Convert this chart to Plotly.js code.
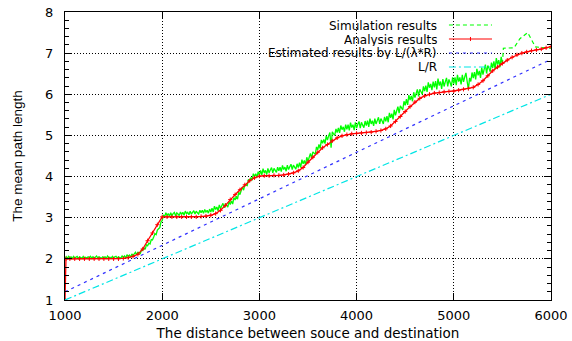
<!DOCTYPE html>
<html>
<head>
<meta charset="utf-8">
<script src="https://cdn.plot.ly/plotly-3.0.1.min.js"></script>
<style>html,body{margin:0;padding:0;background:#fff;}#chart{width:572px;height:341px;}</style>
</head>
<body>
<div id="chart"></div>
<script>
// ---- data ----
var xTickVals = [1000, 2000, 3000, 4000, 5000, 6000];
var yTickVals = [1, 2, 3, 4, 5, 6, 7, 8];

// Simulation results (dense, sampled every 12.5 from 1000 to 5500)
var simStart = 1000, simStep = 12.5;
var simDense = [
  // 1000 - 1600
  2.00, 2.05, 2.01, 2.06, 2.03, 2.05, 2.00, 2.06, 2.02, 2.04, 2.06, 2.01, 2.05, 2.03, 2.01, 2.06, 2.02,
  2.04, 2.02, 2.05, 2.03, 2.06, 2.01, 2.05, 2.02, 2.04, 2.07, 2.02, 2.05, 2.03, 2.01, 2.05, 2.03,
  2.05, 2.01, 2.07, 2.03, 2.04, 2.01, 2.06, 2.02, 2.05, 2.06, 2.02, 2.05, 2.03, 2.02, 2.07, 2.03,
  // 1612.5 - 2000
  2.07, 2.02, 2.10, 2.06, 2.09, 2.04, 2.12, 2.08, 2.12, 2.16, 2.10, 2.16, 2.15, 2.13, 2.22, 2.20,
  2.27, 2.23, 2.34, 2.32, 2.38, 2.36, 2.47, 2.46, 2.53, 2.61, 2.59, 2.70, 2.73, 2.76, 2.90, 2.93,
  // 2012.5 - 2500
  3.07, 3.02, 3.12, 3.06, 3.10, 3.03, 3.12, 3.05, 3.10, 3.13, 3.05, 3.12, 3.09, 3.05, 3.14, 3.08,
  3.13, 3.06, 3.16, 3.10, 3.13, 3.07, 3.16, 3.09, 3.13, 3.17, 3.09, 3.16, 3.12, 3.09, 3.18, 3.12,
  3.18, 3.11, 3.20, 3.14, 3.18, 3.11, 3.21, 3.14,
  // 2512.5 - 3000
  3.23, 3.14, 3.28, 3.20, 3.26, 3.17, 3.31, 3.22, 3.29, 3.35, 3.24, 3.34, 3.30, 3.26, 3.39, 3.32,
  3.41, 3.33, 3.49, 3.43, 3.52, 3.45, 3.62, 3.56, 3.66, 3.75, 3.67, 3.80, 3.79, 3.78, 3.93, 3.88,
  3.98, 3.91, 4.07, 4.00, 4.07, 3.98, 4.12, 4.03,
  // 3012.5 - 3400
  4.15, 4.04, 4.19, 4.09, 4.15, 4.05, 4.20, 4.09, 4.16, 4.22, 4.09, 4.20, 4.15, 4.10, 4.23, 4.14,
  4.23, 4.12, 4.27, 4.17, 4.23, 4.13, 4.28, 4.17, 4.24, 4.30, 4.17, 4.28, 4.23, 4.18, 4.31, 4.22,
  // 3412.5 - 3900
  4.34, 4.22, 4.41, 4.31, 4.39, 4.28, 4.47, 4.37, 4.47, 4.56, 4.45, 4.60, 4.57, 4.54, 4.72, 4.65,
  4.78, 4.68, 4.89, 4.81, 4.90, 4.80, 4.99, 4.89, 4.99, 5.07, 4.70, 5.09, 5.04, 5.00, 5.16, 5.07,
  5.18, 5.06, 5.24, 5.14, 5.21, 5.09, 5.26, 5.15,
  // 3912.5 - 4300
  5.26, 5.12, 5.31, 5.19, 5.26, 5.13, 5.32, 5.18, 5.27, 5.34, 5.18, 5.32, 5.25, 5.19, 5.35, 5.24,
  5.36, 5.21, 5.41, 5.28, 5.36, 5.23, 5.41, 5.28, 5.36, 5.44, 5.28, 5.41, 5.35, 5.28, 5.45, 5.34,
  // 4312.5 - 4800
  5.47, 5.32, 5.55, 5.43, 5.53, 5.39, 5.62, 5.49, 5.60, 5.70, 5.54, 5.72, 5.67, 5.62, 5.83, 5.73,
  5.88, 5.74, 5.98, 5.86, 5.96, 5.83, 6.05, 5.92, 6.02, 6.12, 5.95, 6.12, 6.06, 6.00, 6.19, 6.08,
  6.21, 6.06, 6.29, 6.16, 6.25, 6.10, 6.31, 6.17,
  // 4812.5 - 5500
  6.32, 6.12, 6.38, 6.21, 6.31, 6.13, 6.37, 6.19, 6.30, 6.40, 6.19, 6.36, 6.28, 6.19, 6.41, 6.26,
  6.41, 6.22, 6.47, 6.31, 6.41, 6.24, 6.47, 6.30, 6.42, 6.52, 6.31, 6.12, 6.40, 6.31, 6.53, 6.39,
  6.54, 6.36, 6.62, 6.46, 6.57, 6.40, 6.65, 6.48, 6.61, 6.72, 6.51, 6.70, 6.63, 6.55, 6.77, 6.64,
  6.80, 6.61, 6.88, 6.72, 6.83, 6.66, 6.91, 6.74
];
// Simulation results (sparse tail)
var simTailX = [5510, 5620, 5680, 5760, 5840, 6000];
var simTailY = [7.12, 7.13, 7.35, 7.50, 7.15, 7.12];

// Analysis results
var anaX = [1000, 1010, 1050, 1100, 1150, 1200, 1250, 1300, 1350, 1400, 1450, 1500, 1550, 1600, 1650, 1700, 1750, 1800, 1850, 1900, 1950, 2000,
  2050, 2100, 2150, 2200, 2250, 2300, 2350, 2400, 2450, 2500, 2550, 2600, 2650, 2700, 2750, 2800, 2850, 2900, 2950, 3000,
  3050, 3100, 3150, 3200, 3250, 3300, 3350, 3400, 3450, 3500, 3550, 3600, 3650, 3700, 3750, 3800, 3850, 3900, 3950, 4000,
  4050, 4100, 4150, 4200, 4250, 4300, 4350, 4400, 4450, 4500, 4550, 4600, 4650, 4700, 4750, 4800, 4850, 4900, 4950, 5000,
  5050, 5100, 5150, 5200, 5250, 5300, 5350, 5400, 5450, 5500, 5550, 5600, 5650, 5700, 5750, 5800, 5850, 5900, 5950, 6000];
var anaY = [1.00, 2.00, 2.00, 2.00, 2.00, 2.00, 2.00, 2.00, 2.00, 2.00, 2.00, 2.00, 2.00, 2.01, 2.03, 2.06, 2.11, 2.24, 2.44, 2.63, 2.83, 3.02,
  3.02, 3.02, 3.02, 3.02, 3.02, 3.02, 3.02, 3.03, 3.04, 3.06, 3.10, 3.18, 3.30, 3.44, 3.56, 3.68, 3.80, 3.90, 3.97, 4.01,
  4.02, 4.02, 4.03, 4.03, 4.04, 4.06, 4.09, 4.14, 4.22, 4.35, 4.47, 4.59, 4.70, 4.78, 4.87, 4.94, 4.99, 5.02, 5.04, 5.05,
  5.06, 5.07, 5.08, 5.10, 5.12, 5.16, 5.23, 5.34, 5.46, 5.58, 5.70, 5.81, 5.90, 5.96, 6.00, 6.03, 6.04, 6.06, 6.07, 6.08,
  6.10, 6.12, 6.14, 6.17, 6.24, 6.33, 6.45, 6.57, 6.66, 6.75, 6.83, 6.90, 6.96, 7.00, 7.03, 7.06, 7.08, 7.10, 7.13, 7.16];

// Estimated results by L/(lambda*R)
var estX = [1000, 6000];
var estY = [1.20, 6.85];

// L/R
var lrX = [1000, 6000];
var lrY = [1.0, 6.0];

var legendNames = ["Simulation results", "Analysis results", "Estimated results by L/(\u03bb*R)", "L/R"];
var axisTitles = {x: "The distance between souce and destination", y: "The mean path length"};

// ---- build ----
var simX = [], simY = [];
for (var i = 0; i < simDense.length; i++) { simX.push(simStart + i * simStep); simY.push(simDense[i]); }
var tailX = [simX[simX.length - 1]].concat(simTailX);
var tailY = [simY[simY.length - 1]].concat(simTailY);

var colors = {sim: "#00ff00", ana: "#ff0000", est: "#3030ff", lr: "#00e5e5"};
var dashes = {sim: "4px,3px", est: "3px,4px", lr: "7px,3px,2px,3px"};

var traces = [
  {x: simX, y: simY, mode: "lines", line: {color: colors.sim, width: 1.3}, hoverinfo: "skip"},
  {x: tailX, y: tailY, mode: "lines", line: {color: colors.sim, width: 1.2, dash: dashes.sim}, hoverinfo: "skip"},
  {x: anaX, y: anaY, mode: "lines+markers", line: {color: colors.ana, width: 1.3},
   marker: {symbol: "cross-thin", size: 3, line: {color: colors.ana, width: 1}}, hoverinfo: "skip"},
  {x: estX, y: estY, mode: "lines", line: {color: colors.est, width: 1.2, dash: dashes.est}, hoverinfo: "skip"},
  {x: lrX, y: lrY, mode: "lines", line: {color: colors.lr, width: 1.2, dash: dashes.lr}, hoverinfo: "skip"}
];

var tickFont = {family: "DejaVu Sans", size: 13, color: "#000"};
var legendRows = [0.95486, 0.90625, 0.85764, 0.80903];
var sampleX0 = 0.790, sampleX1 = 0.8786;
var rowColors = [colors.sim, colors.ana, colors.est, colors.lr];
var rowDash = [dashes.sim, "solid", dashes.est, dashes.lr];

var annotations = [], shapes = [];
// white box behind legend (gnuplot erases grid under the key)
shapes.push({type: "rect", xref: "paper", yref: "paper", x0: 0.002, x1: 0.895, y0: 0.7917, y1: 0.997,
  fillcolor: "#fff", line: {width: 0}, layer: "between"});
for (var k = 0; k < legendNames.length; k++) {
  annotations.push({xref: "paper", yref: "paper", x: 0.7675, y: legendRows[k], xanchor: "right", yanchor: "middle",
    text: legendNames[k], showarrow: false, height: 13, borderpad: 0,
    font: {family: "DejaVu Sans", size: 12, color: "#000"}});
  shapes.push({type: "line", xref: "paper", yref: "paper", x0: sampleX0, x1: sampleX1, y0: legendRows[k], y1: legendRows[k],
    line: {color: rowColors[k], width: 1.2, dash: rowDash[k]}});
}
// marker on the analysis sample
var midX = (sampleX0 + sampleX1) / 2;
shapes.push({type: "line", xref: "paper", yref: "paper", x0: midX, x1: midX, y0: legendRows[1] - 0.007, y1: legendRows[1] + 0.007,
  line: {color: colors.ana, width: 1}});

var layout = {
  width: 572, height: 341,
  margin: {l: 65, r: 21, t: 12, b: 41, pad: 0},
  paper_bgcolor: "#fff", plot_bgcolor: "#fff",
  showlegend: false,
  xaxis: {
    range: [1000, 6000], tickvals: xTickVals, ticktext: xTickVals.map(String),
    ticks: "inside", ticklen: 7, tickcolor: "#000", tickwidth: 1,
    showline: true, linecolor: "#000", linewidth: 1, mirror: "allticks",
    showgrid: true, gridcolor: "#000", gridwidth: 1, griddash: "1px,2px",
    zeroline: false, tickfont: tickFont, ticklabelstandoff: 3,
    title: {text: axisTitles.x, font: {family: "DejaVu Sans", size: 13.5, color: "#000"}, standoff: 6}
  },
  yaxis: {
    range: [1, 8], tickvals: yTickVals, ticktext: yTickVals.map(String),
    ticks: "inside", ticklen: 7, tickcolor: "#000", tickwidth: 1,
    showline: true, linecolor: "#000", linewidth: 1, mirror: "allticks",
    showgrid: true, gridcolor: "#000", gridwidth: 1, griddash: "1px,2px",
    zeroline: false, tickfont: tickFont, ticklabelstandoff: 8,
    minor: {dtick: 0.2, ticks: "inside", ticklen: 4, tickcolor: "#000", showgrid: false},
    title: {text: axisTitles.y, font: {family: "Liberation Sans", size: 13.5, color: "#000"}, standoff: 19}
  },
  annotations: annotations,
  shapes: shapes
};

Plotly.newPlot("chart", traces, layout, {staticPlot: true, displayModeBar: false});
</script>
</body>
</html>
